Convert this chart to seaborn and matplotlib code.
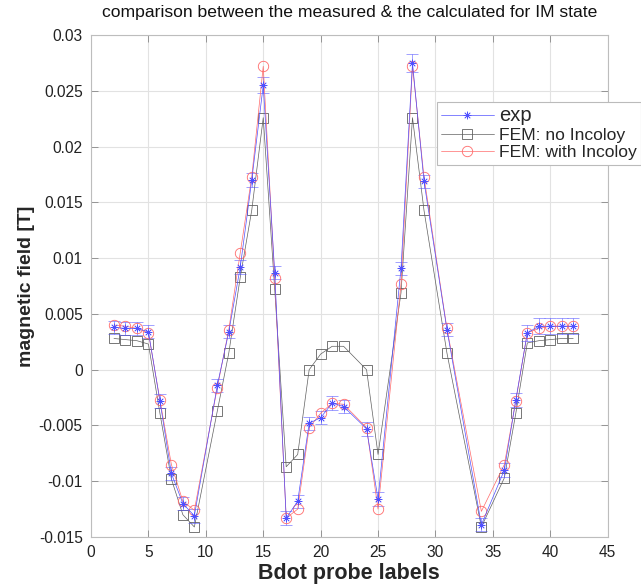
import matplotlib
matplotlib.use("Agg")
import matplotlib.pyplot as plt
import seaborn as sns
import pandas as pd
from matplotlib.ticker import FuncFormatter

# Probe labels and measured / simulated field values [T]
probes = [2, 3, 4, 5, 6, 7, 8, 9, 11, 12, 13, 14, 15, 16, 17, 18, 19, 20, 21, 22,
          24, 25, 27, 28, 29, 31, 34, 36, 37, 38, 39, 40, 41, 42]

exp_vals = [0.0038, 0.0037, 0.0037, 0.0034, -0.0028, -0.0093, -0.0120, -0.0131,
            -0.0014, 0.0034, 0.0092, 0.0170, 0.0255, 0.0087, -0.0133, -0.0118,
            -0.0048, -0.0043, -0.0030, -0.0033, -0.0053, -0.0116, 0.0091, 0.0275,
            0.0169, 0.0036, -0.0139, -0.0090, -0.0027, 0.0033, 0.0039, 0.0039,
            0.0039, 0.0039]

exp_err = [0.0006, 0.0006, 0.0006, 0.0006, 0.0006, 0.0006, 0.0006, 0.0006,
           0.0006, 0.0006, 0.0006, 0.0006, 0.0007, 0.0006, 0.0006, 0.0006,
           0.0006, 0.0006, 0.0006, 0.0006, 0.0006, 0.0006, 0.0006, 0.0008,
           0.0006, 0.0006, 0.0006, 0.0006, 0.0006, 0.0007, 0.0007, 0.0007,
           0.0007, 0.0007]

fem_no_incoloy = [0.0028, 0.0027, 0.0026, 0.0023, -0.0039, -0.0098, -0.0130, -0.0141,
                  -0.0037, 0.0015, 0.0083, 0.0143, 0.0226, 0.0072, -0.0087, -0.0076,
                  0.0000, 0.0014, 0.0021, 0.0021, 0.0000, -0.0076, 0.0069, 0.0226,
                  0.0143, 0.0015, -0.0141, -0.0097, -0.0039, 0.0024, 0.0026, 0.0027,
                  0.0028, 0.0028]

fem_with_incoloy = [0.0040, 0.0039, 0.0037, 0.0033, -0.0027, -0.0085, -0.0118, -0.0126,
                    -0.0016, 0.0036, 0.0105, 0.0173, 0.0272, 0.0082, -0.0133, -0.0125,
                    -0.0052, -0.0039, -0.0030, -0.0031, -0.0052, -0.0125, 0.0077, 0.0272,
                    0.0173, 0.0037, -0.0127, -0.0085, -0.0028, 0.0033, 0.0037, 0.0039,
                    0.0039, 0.0039]

x_ticks = [0, 5, 10, 15, 20, 25, 30, 35, 40, 45]
y_ticks = [-0.015, -0.01, -0.005, 0, 0.005, 0.01, 0.015, 0.02, 0.025, 0.03]

sns.set_theme(style="whitegrid")
plt.rcParams['font.family'] = ['Liberation Sans', 'DejaVu Sans']

df = pd.DataFrame({
    'probe': probes,
    'exp': exp_vals,
    'no_inc': fem_no_incoloy,
    'with_inc': fem_with_incoloy,
})

blue = '#5050ff'
gray = '#606060'
red = '#ff6a6a'

fig = plt.figure(figsize=(6.41, 5.85), dpi=100)
ax = fig.add_axes([0.142, 0.082, 0.806, 0.858])

ax.errorbar(df['probe'], df['exp'], yerr=exp_err, fmt='none', ecolor=blue,
            elinewidth=0.5, capsize=4, capthick=0.5, alpha=0.75, zorder=3)
sns.lineplot(data=df, x='probe', y='exp', ax=ax, color=blue, linewidth=0.5,
             marker=(8, 2, 0), markersize=5.5, markeredgecolor=blue,
             markeredgewidth=0.5, label='exp', zorder=4)
sns.lineplot(data=df, x='probe', y='no_inc', ax=ax, color=gray, linewidth=0.5,
             marker='s', markersize=7.5, markerfacecolor='none',
             markeredgecolor=gray, markeredgewidth=0.6,
             label='FEM: no Incoloy', zorder=2)
sns.lineplot(data=df, x='probe', y='with_inc', ax=ax, color=red, linewidth=0.5,
             marker='o', markersize=7.5, markerfacecolor='none',
             markeredgecolor=red, markeredgewidth=0.6,
             label='FEM: with Incoloy', zorder=3)

ax.set_xlim(0, 45)
ax.set_ylim(-0.015, 0.03)
ax.set_xticks(x_ticks)
ax.set_yticks(y_ticks)
ax.yaxis.set_major_formatter(FuncFormatter(lambda v, p: '%g' % round(v, 4)))

ax.set_facecolor('white')
ax.grid(True, color='#e2e2e2', linewidth=0.8)
for s in ax.spines.values():
    s.set_visible(True)
    s.set_color('#bdbdbd')
    s.set_linewidth(0.8)
ax.tick_params(direction='in', length=5, width=0.6, color='#888888',
               labelsize=11.2, labelcolor='#222222', top=True, right=True,
               left=True, bottom=True, pad=6)

ax.set_title('comparison between the measured & the calculated for IM state',
             fontsize=12.6, color='#111111', pad=13)
ax.set_xlabel('Bdot probe labels', fontsize=15.5, fontweight='bold', labelpad=2)
ax.set_ylabel('magnetic field [T]', fontsize=14, fontweight='bold', labelpad=3)

leg = ax.legend(loc='upper left', bbox_to_anchor=(0.669, 0.8665), borderaxespad=0,
                fontsize=12.6, handlelength=3.0, frameon=True, fancybox=False,
                framealpha=1, edgecolor='#bbbbbb', borderpad=0.25,
                labelspacing=0.12, handletextpad=0.3)
leg.get_frame().set_linewidth(0.8)
leg.get_texts()[0].set_fontsize(14.5)

fig.savefig('out.png', dpi=100)
